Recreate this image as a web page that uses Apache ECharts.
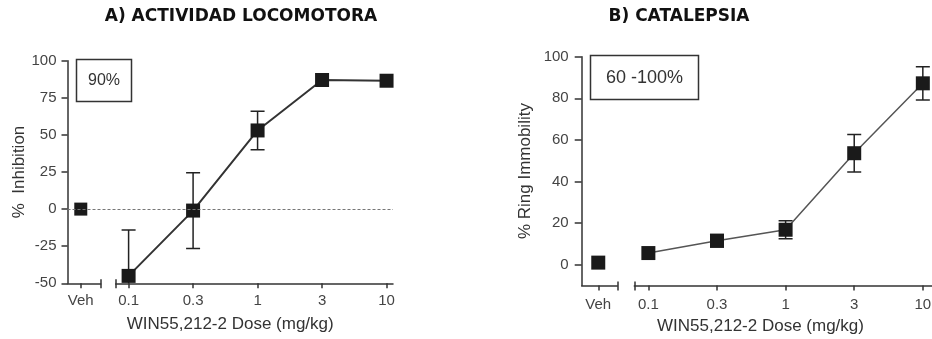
<!DOCTYPE html>
<html>
<head>
<meta charset="utf-8">
<script src="https://cdn.jsdelivr.net/npm/echarts@6/dist/echarts.min.js"></script>
<style>html,body{margin:0;padding:0;background:#fff}#c{width:932px;height:339px}</style>
</head>
<body>
<div id="c"></div>
<script>
// ---- data ----
const doseLabels = ['0.1', '0.3', '1', '3', '10'];
const vehLabel = 'Veh';
// A) Locomotor activity (% inhibition)
const vehA = 0;
const meanA = [-45, -1, 53, 87, 86.5];
const errA = [31, 25.5, 13, 0, 0];
// B) Catalepsy (% ring immobility)
const vehB = 1;
const meanB = [5.6, 11.5, 16.8, 53.6, 87.2];
const errB = [0, 3, 4.3, 9, 8];
const yTicksA = [-50, -25, 0, 25, 50, 75, 100];
const yTicksB = [0, 20, 40, 60, 80, 100];

const FONT = 'Liberation Sans';
const AX = '#333';
const LBL = '#444';

function errData(means, errs) {
  const out = [];
  means.forEach((m, i) => { if (errs[i] > 0) out.push([i, m - errs[i], m + errs[i]]); });
  return out;
}
function renderErr(params, api) {
  const x = api.value(0);
  const lo = api.coord([x, api.value(1)]);
  const hi = api.coord([x, api.value(2)]);
  const hw = 7;
  const st = { stroke: '#222', lineWidth: 1.5 };
  return {
    type: 'group',
    children: [
      { type: 'line', shape: { x1: lo[0], y1: lo[1], x2: hi[0], y2: hi[1] }, style: st },
      { type: 'line', shape: { x1: lo[0] - hw, y1: lo[1], x2: lo[0] + hw, y2: lo[1] }, style: st },
      { type: 'line', shape: { x1: hi[0] - hw, y1: hi[1], x2: hi[0] + hw, y2: hi[1] }, style: st }
    ]
  };
}

function mainX(grid, min, max, tickVals, labelVals, fmt, margin) {
  return {
    type: 'value', gridIndex: grid, min: min, max: max, position: 'bottom',
    axisLine: { show: true, onZero: false, lineStyle: { color: AX, width: 1.5 } },
    axisTick: { show: true, customValues: tickVals, length: 5, lineStyle: { color: AX, width: 1.5 } },
    axisLabel: { show: true, customValues: labelVals, formatter: fmt, color: LBL, fontSize: 15, fontFamily: FONT, margin: margin, hideOverlap: false },
    splitLine: { show: false }
  };
}
function innerX(grid, min, max, tickVals) {
  return {
    type: 'value', gridIndex: grid, min: min, max: max, position: 'bottom',
    axisLine: { show: false, onZero: false },
    axisTick: { show: true, inside: true, customValues: tickVals, length: 4, lineStyle: { color: AX, width: 1.5 } },
    axisLabel: { show: false }, splitLine: { show: false }
  };
}
function overlayX(grid, gap) {
  return {
    type: 'value', gridIndex: grid, min: 0, max: 1,
    axisLine: { show: false, onZero: false }, axisTick: { show: false }, axisLabel: { show: false }, splitLine: { show: false },
    name: 'WIN55,212-2 Dose (mg/kg)', nameLocation: 'middle', nameGap: gap,
    nameTextStyle: { color: AX, fontSize: 17, fontFamily: FONT }
  };
}
function hiddenY(grid, min, max) {
  return { type: 'value', gridIndex: grid, min: min, max: max, show: false, axisLine: { onZero: false }, splitLine: { show: false } };
}

const doseFmt = v => doseLabels[Math.round(v)];
const vehFmt = () => vehLabel;
const idx = doseLabels.map((_, i) => i);

function g(left, top, width, height) {
  return { left: left, top: top, width: width, height: height, outerBoundsMode: 'none', containLabel: false };
}

const option = {
  animation: false,
  backgroundColor: '#fff',
  grid: [
    g(67.5, 60.7, 33.2, 222.6),
    g(115.7, 60.7, 277.3, 222.6),
    g(67.5, 60.7, 325.5, 222.6),
    g(581.7, 56.7, 35.6, 228.8),
    g(634.3, 56.7, 305, 228.8),
    g(581.7, 56.7, 357.6, 228.8)
  ],
  xAxis: [
    mainX(0, -1, 1.5, [0, 1.5], [0], vehFmt, 10),
    innerX(0, -1, 1.5, [1.5]),
    mainX(1, -0.2, 4.1, [-0.2].concat(idx), idx, doseFmt, 10),
    innerX(1, -0.2, 4.1, [-0.2]),
    overlayX(2, 33),
    mainX(3, -1, 1.15, [0, 1.15], [0], vehFmt, 12),
    innerX(3, -1, 1.15, [1.15]),
    mainX(4, -0.205, 4.24, [-0.205].concat(idx), idx, doseFmt, 12),
    innerX(4, -0.205, 4.24, [-0.205]),
    overlayX(5, 32)
  ],
  yAxis: [
    {
      type: 'value', gridIndex: 0, min: -50, max: 100, interval: 25,
      axisLine: { show: true, onZero: false, lineStyle: { color: AX, width: 1.5 } },
      axisTick: { show: true, length: 6, lineStyle: { color: AX, width: 1.5 } },
      axisLabel: { color: LBL, fontSize: 15, fontFamily: FONT, margin: 11 },
      splitLine: { show: false },
      name: '%  Inhibition', nameLocation: 'middle', nameGap: 37,
      nameTextStyle: { color: AX, fontSize: 17, fontFamily: FONT }
    },
    hiddenY(1, -50, 100),
    hiddenY(2, -50, 100),
    {
      type: 'value', gridIndex: 3, min: -10, max: 100,
      axisLine: { show: true, onZero: false, lineStyle: { color: AX, width: 1.5 } },
      axisTick: { show: true, length: 7, customValues: yTicksB, lineStyle: { color: AX, width: 1.5 } },
      axisLabel: { color: LBL, fontSize: 15, fontFamily: FONT, margin: 13, customValues: yTicksB },
      splitLine: { show: false },
      name: '% Ring Immobility', nameLocation: 'middle', nameGap: 48,
      nameTextStyle: { color: AX, fontSize: 17, fontFamily: FONT }
    },
    hiddenY(4, -10, 100),
    hiddenY(5, -10, 100)
  ],
  graphic: [
    { type: 'text', x: 241, y: 17, style: { text: 'A) ACTIVIDAD LOCOMOTORA', fill: '#111', font: 'bold 17px "DejaVu Sans", sans-serif', textAlign: 'center', textVerticalAlign: 'middle' } },
    { type: 'text', x: 679, y: 17, style: { text: 'B) CATALEPSIA', fill: '#111', font: 'bold 17px "DejaVu Sans", sans-serif', textAlign: 'center', textVerticalAlign: 'middle' } },
    { type: 'rect', shape: { x: 76.5, y: 59.5, width: 55, height: 42 }, style: { fill: '#fff', stroke: '#333', lineWidth: 1.5 }, z: 10 },
    { type: 'text', x: 104, y: 81, style: { text: '90%', fill: '#333', font: '16px "Liberation Sans", Arial, sans-serif', textAlign: 'center', textVerticalAlign: 'middle' }, z: 11 },
    { type: 'rect', shape: { x: 590.5, y: 55.5, width: 108, height: 44 }, style: { fill: '#fff', stroke: '#333', lineWidth: 1.5 }, z: 10 },
    { type: 'text', x: 644.5, y: 78, style: { text: '60 -100%', fill: '#333', font: '18px "Liberation Sans", Arial, sans-serif', textAlign: 'center', textVerticalAlign: 'middle' }, z: 11 }
  ],
  series: [
    // A: zero reference dashed line across the full panel
    {
      type: 'line', xAxisIndex: 4, yAxisIndex: 2, data: [], silent: true,
      markLine: { silent: true, symbol: 'none', label: { show: false },
        lineStyle: { color: '#777', type: [3, 2], width: 1 }, data: [{ yAxis: 0 }] }
    },
    {
      type: 'custom', xAxisIndex: 2, yAxisIndex: 1, renderItem: renderErr, clip: true, z: 2,
      encode: { x: 0, y: [1, 2] }, data: errData(meanA, errA)
    },
    {
      type: 'line', xAxisIndex: 2, yAxisIndex: 1, z: 3,
      data: idx.map(i => [i, meanA[i]]),
      symbol: 'rect', symbolSize: 14, itemStyle: { color: '#1a1a1a', opacity: 1 },
      lineStyle: { color: '#333', width: 2 }
    },
    {
      type: 'scatter', xAxisIndex: 0, yAxisIndex: 0, z: 3,
      data: [[0, vehA]], symbol: 'rect', symbolSize: 13, itemStyle: { color: '#1a1a1a', opacity: 1 }
    },
    // B
    {
      type: 'custom', xAxisIndex: 7, yAxisIndex: 4, renderItem: renderErr, clip: true, z: 2,
      encode: { x: 0, y: [1, 2] }, data: errData(meanB, errB)
    },
    {
      type: 'line', xAxisIndex: 7, yAxisIndex: 4, z: 3,
      data: idx.map(i => [i, meanB[i]]),
      symbol: 'rect', symbolSize: 14, itemStyle: { color: '#1a1a1a', opacity: 1 },
      lineStyle: { color: '#555', width: 1.5 }
    },
    {
      type: 'scatter', xAxisIndex: 5, yAxisIndex: 3, z: 3,
      data: [[0, vehB]], symbol: 'rect', symbolSize: 14, itemStyle: { color: '#1a1a1a', opacity: 1 }
    }
  ]
};
const chart = echarts.init(document.getElementById('c'), null, { renderer: 'canvas' });
chart.setOption(option);
</script>
</body>
</html>
